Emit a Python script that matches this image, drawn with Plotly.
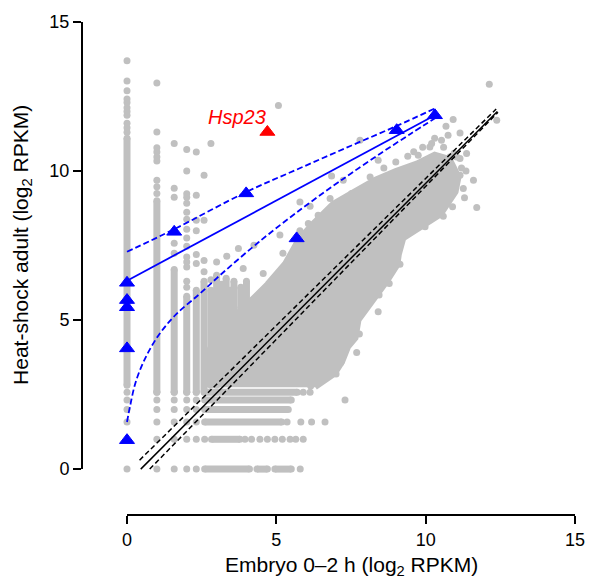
import plotly.graph_objects as go

GRAY = "#C0C0C0"
BLUE = "#0000FF"
RED = "#FF0000"
FONT = "Liberation Sans, Arial, sans-serif"

# dense core of the gene cloud (outline, log2 RPKM)
CORE_X = [2.6, 2.7, 3.1, 3.55, 4.15, 4.7, 5.3, 5.75, 6.2, 6.9, 7.6, 8.3, 9.0, 9.7, 10.3,
          10.8, 11.1, 11.0, 10.5, 9.9, 9.25, 9.1, 9.05, 8.7, 8.4, 8.0, 7.75, 7.65, 7.4, 7.2, 6.95, 6.3]
CORE_Y = [2.75, 3.9, 4.6, 5.1, 5.65, 6.2, 6.9, 7.7, 8.2, 8.9, 9.3, 9.7, 10.0, 10.25, 10.55,
          10.4, 9.8, 9.3, 8.55, 8.15, 7.75, 7.2, 6.85, 6.3, 5.9, 5.35, 5.0, 4.4, 4.1, 3.6, 3.2, 2.75]

# runs of touching points along the discrete count levels
ROW_LEVEL = [0, 0, 0, 1.0, 1.58, 2.0, 2.32, 2.58]
ROW_FROM = [2.6, 4.35, 4.95, 2.83, 2.6, 2.6, 2.6, 2.6]
ROW_TO = [4.1, 4.7, 5.5, 3.78, 5.18, 5.4, 5.5, 5.7]
COL_LEVEL = [0, 1.0, 1.58, 2.0, 2.32, 2.58, 2.81, 3.0, 3.17, 3.32, 3.46, 3.58, 3.81, 4.0]
COL_FROM = [2.81, 2.58, 2.58, 2.58, 2.58, 2.58, 2.81, 2.81, 4.4, 4.8, 5.0, 5.0, 5.4, 5.5]
COL_TO = [11.1, 9.0, 6.7, 5.8, 6.0, 6.3, 6.0, 6.5, 6.2, 6.4, 6.0, 6.3, 6.1, 6.3]

# single points on the low count rows
ROW_DOT_Y = [0, 1.0, 1.58, 2.0, 2.32, 2.58]
ROW_DOT_X = [
    [0, 1.0, 1.58, 2.0, 2.32, 5.8],
    [1.0, 1.58, 2.0, 2.32, 2.6, 3.95, 4.17, 4.45, 4.7, 4.95, 5.2, 5.46, 5.65, 5.9],
    [0, 1.0, 1.58, 2.0, 2.32, 5.36, 5.82, 6.18, 6.63],
    [0, 1.0, 1.58, 2.0, 2.32],
    [0, 1.0, 1.58, 2.0, 2.32, 7.3],
    [0, 1.0, 1.58, 2.0, 2.32, 5.9, 6.13],
]

# scattered points outside the core
DOT_X = [0, 0, 0, 0, 0, 0, 0, 0, 0, 0, 0,
         1, 1, 1, 1, 1, 1, 1, 1, 1,
         1.58, 1.58, 1.58, 1.58, 1.58,
         2, 2, 2, 2, 2, 2, 2, 2, 2, 2, 2, 2, 2, 2, 2,
         2.32, 2.32, 2.32, 2.32, 2.32, 2.32,
         2.58, 2.58, 2.58, 2.58, 2.81, 2.81,
         3.0, 3.34, 3.73, 3.89, 4.25, 4.56, 5.12, 5.07,
         5.22, 5.79, 5.79, 6.13, 6.4, 6.07, 6.8, 6.85, 7.24, 7.52, 7.8, 8.14, 8.36, 8.41, 8.8, 9.08,
         9.75, 10.2, 10.37, 10.53, 10.68, 10.81, 10.92, 11.04, 11.15, 11.15, 11.37, 12.13, 12.38,
         11.6, 11.71, 11.26, 10.59, 9.98, 10.14, 11.15,
         9.4, 9.9, 10.6, 10.95, 11.2, 10.75, 10.3, 9.0, 8.6, 11.3, 10.9, 9.6, 11.35,
         9.03, 9.14, 8.78, 8.44, 8.41, 7.78, 7.69, 7.32, 7.16, 7.0, 6.66, 6.4, 6.15]
DOT_Y = [11.3, 11.45, 11.6, 11.87, 12.0, 12.12, 12.3, 12.42, 12.69, 13.02, 13.7,
         9.25, 9.47, 9.69, 10.34, 10.47, 10.64, 10.78, 11.31, 12.95,
         7.24, 7.58, 9.12, 9.42, 10.92,
         6.1, 6.3, 6.78, 6.95, 7.12, 7.48, 7.75, 8.05, 8.38, 8.62, 8.92, 9.12, 9.24, 10.0, 10.72,
         6.9, 7.2, 8.0, 8.35, 9.19, 10.64,
         6.62, 7.0, 8.35, 9.86, 6.35, 10.92,
         6.95, 7.14, 7.4, 6.73, 7.51, 6.56, 7.85, 12.2,
         7.24, 8.0, 8.96, 8.82, 8.52, 8.24, 9.08, 9.83, 9.69, 9.25, 11.03, 9.8, 9.47, 10.36, 9.8, 9.69,
         10.53, 10.92, 10.36, 11.03, 11.5, 10.47, 11.73, 10.47, 11.28, 10.42, 10.59, 12.91, 11.7,
         9.69, 8.78, 9.41, 8.48, 8.13, 10.81, 9.86,
         10.5, 10.8, 10.8, 10.6, 10.1, 11.2, 11.1, 10.3, 10.1, 9.1, 8.8, 10.65, 10.0,
         7.18, 6.87, 6.23, 5.84, 5.28, 4.53, 3.91, 4.01, 3.58, 3.19, 3.19, 3.19, 2.79]

# linear fit for all genes with its dashed band
REG_X = [0.46, 12.4]
REG_Y = [0.0, 12.0]
REG_HI_X = [0.42, 12.36]
REG_HI_Y = [0.3, 12.08]
REG_LO_X = [0.76, 12.42]
REG_LO_Y = [0.0, 11.97]

# heat-shock genes (blue) and their fit with dashed band
HS_X = [0, 0, 0, 0, 0, 1.58, 3.99, 5.68, 9.03, 10.31]
HS_Y = [6.25, 5.67, 5.43, 4.05, 0.97, 7.96, 9.25, 7.74, 11.37, 11.87]
FIT_X = [0, 10.31]
FIT_Y = [6.32, 11.87]
FIT_HI_X = [0, 1.58, 4.0, 5.8, 7.5, 9.0, 10.31]
FIT_HI_Y = [7.29, 8.05, 9.3, 10.1, 10.85, 11.5, 12.1]
FIT_LO_X = [0, 0.1, 0.3, 0.65, 1.1, 1.65, 2.4, 3.0, 3.6, 4.2, 4.7, 5.8, 6.9, 7.5, 8.5, 9.5, 10.31]
FIT_LO_Y = [1.58, 2.1, 2.95, 3.8, 4.55, 5.2, 5.85, 6.4, 6.93, 7.44, 7.85, 8.7, 9.5, 9.92, 10.6, 11.25, 11.77]

HSP23_X = [4.7]
HSP23_Y = [11.31]

X_TICKS = [0, 5, 10, 15]
Y_TICKS = [0, 5, 10, 15]


def stripes(fixed, start, end, vertical):
    xs, ys = [], []
    for f, a, b in zip(fixed, start, end):
        if vertical:
            xs += [f, f, None]
            ys += [a, b, None]
        else:
            xs += [a, b, None]
            ys += [f, f, None]
    return xs, ys


fig = go.Figure()

# cloud of genes
fig.add_trace(go.Scatter(x=CORE_X, y=CORE_Y, mode="lines", fill="toself",
                         fillcolor=GRAY, line=dict(color=GRAY, width=6), hoverinfo="skip"))
for vertical, fixed, a, b in [(False, ROW_LEVEL, ROW_FROM, ROW_TO),
                              (True, COL_LEVEL, COL_FROM, COL_TO)]:
    sx, sy = stripes(fixed, a, b, vertical)
    fig.add_trace(go.Scatter(x=sx, y=sy, mode="lines+markers",
                             line=dict(color=GRAY, width=7),
                             marker=dict(color=GRAY, size=7), hoverinfo="skip"))

rx, ry = [], []
for yv, xs in zip(ROW_DOT_Y, ROW_DOT_X):
    rx += xs
    ry += [yv] * len(xs)
fig.add_trace(go.Scatter(x=rx + DOT_X, y=ry + DOT_Y, mode="markers",
                         marker=dict(color=GRAY, size=7)))

# regression for all genes
fig.add_trace(go.Scatter(x=REG_X, y=REG_Y, mode="lines", line=dict(color="black", width=1.5)))
for bx, by in [(REG_HI_X, REG_HI_Y), (REG_LO_X, REG_LO_Y)]:
    fig.add_trace(go.Scatter(x=bx, y=by, mode="lines",
                             line=dict(color="black", width=1.5, dash="5px,3px")))

# heat-shock gene fit
fig.add_trace(go.Scatter(x=FIT_X, y=FIT_Y, mode="lines", line=dict(color=BLUE, width=1.8)))
for bx, by in [(FIT_HI_X, FIT_HI_Y), (FIT_LO_X, FIT_LO_Y)]:
    fig.add_trace(go.Scatter(x=bx, y=by, mode="lines",
                             line=dict(color=BLUE, width=1.8, dash="6px,3px",
                                       shape="spline", smoothing=1)))
fig.add_trace(go.Scatter(x=HS_X, y=HS_Y, mode="markers",
                         marker=dict(symbol="triangle-up", size=13, color=BLUE,
                                     line=dict(color=BLUE, width=1))))
fig.add_trace(go.Scatter(x=HSP23_X, y=HSP23_Y, mode="markers",
                         marker=dict(symbol="triangle-up", size=13, color=RED,
                                     line=dict(color=RED, width=1))))

fig.add_annotation(x=3.67, y=11.8, text="<i>Hsp23</i>", showarrow=False,
                   xanchor="center", yanchor="middle",
                   font=dict(family=FONT, size=20, color=RED))
fig.add_annotation(x=7.5, y=-0.103, xref="x", yref="paper", showarrow=False,
                   xanchor="center", yanchor="middle",
                   text="Embryo 0\u20132 h (log<sub>2</sub> RPKM)",
                   font=dict(family=FONT, size=21, color="black"))
fig.add_annotation(x=-0.1217, y=7.52, xref="paper", yref="y", showarrow=False, textangle=-90,
                   xanchor="center", yanchor="middle",
                   text="Heat-shock adult (log<sub>2</sub> RPKM)",
                   font=dict(family=FONT, size=21, color="black"))

# detached axis lines
fig.add_shape(type="line", xref="paper", yref="y", x0=0, x1=0, y0=0, y1=15,
              line=dict(color="black", width=2))
fig.add_shape(type="line", xref="x", yref="paper", x0=0, x1=15, y0=0, y1=0,
              line=dict(color="black", width=2))

axis_style = dict(showgrid=False, zeroline=False, showline=False, ticks="outside",
                  ticklen=8, tickwidth=2, tickcolor="black", ticklabeloverflow="allow",
                  automargin=False,
                  tickfont=dict(family=FONT, size=18, color="black"))
fig.update_xaxes(range=[-1.507, 15], tickvals=X_TICKS, **axis_style)
fig.update_yaxes(range=[-1.54, 15], tickvals=Y_TICKS, **axis_style)

fig.update_layout(
    template="none",
    width=589, height=579,
    margin=dict(l=82, r=14, t=22, b=64),
    plot_bgcolor="white", paper_bgcolor="white",
    showlegend=False,
    font=dict(family=FONT),
)

# drop the default body margin so the figure fills the window exactly
fig.write_html("out.html", config={"displayModeBar": False},
               post_script="document.body.style.margin='0';document.body.style.overflow='hidden';")
